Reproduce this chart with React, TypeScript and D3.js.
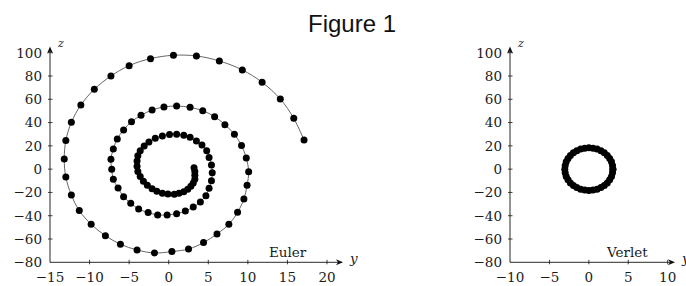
import React from "react";
import * as d3 from "d3";

// Euler trajectory, read from the outer end inwards
const eulerY = [
  17.1, 15.8, 14.1, 11.8, 9.3, 6.4, 3.5, 0.6, -2.3, -5.0, -7.3, -9.4, -11.1, -12.3, -13.0, -13.2,
  -13.0, -12.3, -11.3, -9.8, -8.0, -6.1, -4.0, -1.8, 0.4, 2.5, 4.4, 6.1, 7.6, 8.7, 9.5, 9.9,
  10.1, 9.8, 9.2, 8.3, 7.1, 5.8, 4.3, 2.7, 1.0, -0.6, -2.1, -3.5, -4.7, -5.7, -6.5, -7.0,
  -7.3, -7.2, -7.0, -6.4, -5.7, -4.8, -3.8, -2.6, -1.4, -0.2, 1.0, 2.1, 3.1, 4.0, 4.7, 5.1,
  5.4, 5.5, 5.4, 5.1, 4.8, 4.2, 3.5, 2.7, 1.9, 1.0, 0.1, -0.8, -1.7, -2.5, -3.1, -3.6,
  -3.9, -4.0, -4.0, -3.9, -3.6, -3.2, -2.7, -2.1, -1.5, -0.8, -0.1, 0.7, 1.3, 1.9, 2.4, 2.8,
  3.1, 3.3, 3.3, 3.3, 3.2,
];
const eulerZ = [
  25.0, 43.6, 60.2, 74.6, 85.2, 92.9, 97.2, 97.8, 94.9, 88.9, 80.0, 68.6, 55.1, 40.2, 24.5, 8.7,
  -6.8, -22.2, -35.6, -47.4, -57.1, -64.5, -69.4, -72.0, -70.8, -68.6, -63.1, -55.6, -47.4, -37.1, -25.6, -13.9,
  -2.2, 9.6, 20.2, 29.9, 38.2, 45.1, 50.2, 53.1, 54.2, 53.4, 50.8, 46.2, 40.8, 33.7, 25.9, 17.3,
  8.5, -0.1, -8.7, -16.2, -23.6, -29.3, -34.2, -37.3, -39.3, -39.3, -38.2, -35.9, -32.5, -28.2, -22.8, -16.5,
  -9.9, -3.0, 3.6, 9.9, 15.9, 20.8, 24.2, 27.3, 29.1, 29.9, 29.7, 28.5, 26.5, 23.3, 19.8, 15.8,
  11.5, 7.0, 2.5, -2.0, -6.3, -10.3, -13.8, -16.8, -19.0, -20.6, -21.4, -21.5, -20.8, -19.4, -17.3, -14.7,
  -11.8, -8.6, -5.3, -2.0, 1.2,
];

// Verlet trajectory, a closed ring
const verletY = [
  3.05, 3.0, 2.87, 2.64, 2.34, 1.96, 1.53, 1.04, 0.53, 0, -0.53, -1.04, -1.53, -1.96, -2.34, -2.64, -2.87, -3.0,
  -3.05, -3.0, -2.87, -2.64, -2.34, -1.96, -1.53, -1.04, -0.53, 0, 0.53, 1.04, 1.53, 1.96, 2.34, 2.64, 2.87, 3.0, 3.05,
];
const verletZ = [
  0, 3.2, 6.3, 9.2, 11.8, 14.0, 15.8, 17.2, 18.0, 18.3, 18.0, 17.2, 15.8, 14.0, 11.8, 9.2, 6.3, 3.2,
  0, -3.2, -6.3, -9.2, -11.8, -14.0, -15.8, -17.2, -18.0, -18.3, -18.0, -17.2, -15.8, -14.0, -11.8, -9.2, -6.3, -3.2, 0,
];

const eulerTicks = [-15, -10, -5, 0, 5, 10, 15, 20];
const verletTicks = [-10, -5, 0, 5, 10];
const zTicks = [-80, -60, -40, -20, 0, 20, 40, 60, 80, 100];

const serif = "'DejaVu Serif', serif";
const fmt = d3.format("d");

type PanelProps = {
  ys: number[];
  zs: number[];
  domain: [number, number];
  range: [number, number];
  ticks: number[];
  arrowX: number;
  name: string;
  nameX: number;
};

function Panel({ ys, zs, domain, range, ticks, arrowX, name, nameX }: PanelProps) {
  const x = d3.scaleLinear().domain(domain).range(range);
  const z = d3.scaleLinear().domain([-80, 100]).range([262.3, 52.7]);
  const x0 = x(domain[0]);
  const zb = z(-80);
  const pts = ys.map((v, i) => [v, zs[i]] as [number, number]);
  const line = d3
    .line<[number, number]>()
    .x((d) => x(d[0]))
    .y((d) => z(d[1]))
    .curve(d3.curveCatmullRom);

  return (
    <g>
      {/* axes */}
      <line x1={x0} x2={arrowX - 3} y1={zb} y2={zb} stroke="#111" strokeWidth={0.9} />
      <path d={`M${arrowX},${zb} L${arrowX - 7},${zb - 3} L${arrowX - 5},${zb} L${arrowX - 7},${zb + 3} Z`} fill="#111" />
      <line x1={x0} x2={x0} y1={zb} y2={49.5} stroke="#111" strokeWidth={0.9} />
      <path d={`M${x0},46.5 L${x0 - 3},53.5 L${x0},51.5 L${x0 + 3},53.5 Z`} fill="#111" />
      <text x={x0 + 8} y={47} fontFamily={serif} fontStyle="italic" fontSize={11} fill="#222">z</text>
      <text x={arrowX + 7} y={263} fontFamily={serif} fontStyle="italic" fontSize={13.5} fill="#222">y</text>

      {ticks.map((t) => (
        <g key={"x" + t}>
          {t !== domain[0] && <line x1={x(t)} x2={x(t)} y1={zb - 2.5} y2={zb + 2} stroke="#111" strokeWidth={0.8} />}
          <text x={x(t)} y={281.5} textAnchor="middle" fontFamily={serif} fontSize={13.5} fill="#1a1a1a">
            {fmt(t)}
          </text>
        </g>
      ))}
      {zTicks.map((t) => (
        <g key={"z" + t}>
          {t !== -80 && <line x1={x0 - 2} x2={x0 + 2.5} y1={z(t)} y2={z(t)} stroke="#111" strokeWidth={0.8} />}
          <text x={x0 - 8} y={z(t)} dy="0.36em" textAnchor="end" fontFamily={serif} fontSize={13.5} fill="#1a1a1a">
            {fmt(t)}
          </text>
        </g>
      ))}

      {/* trajectory */}
      <path d={line(pts) ?? ""} fill="none" stroke="#555" strokeWidth={0.9} />
      {pts.map((d, i) => (
        <circle key={i} cx={x(d[0])} cy={z(d[1])} r={3.5} fill="#000" />
      ))}

      <text x={nameX} y={256.5} fontFamily={serif} fontSize={13.5} fill="#1a1a1a">{name}</text>
    </g>
  );
}

export default function App() {
  return (
    <svg
      width={686}
      height={286}
      style={{ position: "absolute", left: 0, top: 0, background: "#fff" }}
    >
      <text x={352} y={31.5} textAnchor="middle" fontFamily="'Liberation Sans', sans-serif" fontSize={24} fill="#111">
        Figure 1
      </text>
      <Panel
        ys={eulerY}
        zs={eulerZ}
        domain={[-15, 20]}
        range={[50, 327]}
        ticks={eulerTicks}
        arrowX={343}
        name="Euler"
        nameX={269}
      />
      <Panel
        ys={verletY}
        zs={verletZ}
        domain={[-10, 10]}
        range={[510, 667.7]}
        ticks={verletTicks}
        arrowX={675}
        name="Verlet"
        nameX={607}
      />
    </svg>
  );
}
